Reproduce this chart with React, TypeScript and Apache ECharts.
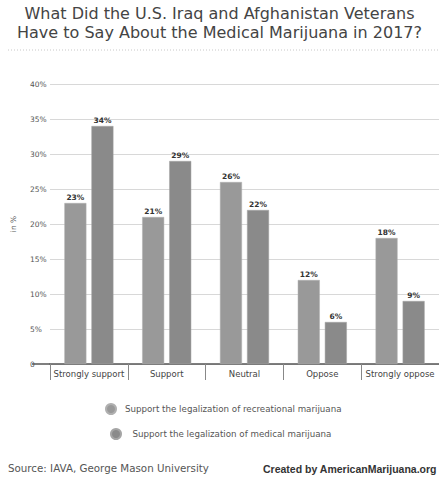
import React, { useEffect, useRef } from "react";
import * as echarts from "echarts";

const categories = ["Strongly support", "Support", "Neutral", "Oppose", "Strongly oppose"];
const recreational = [23, 21, 26, 12, 18];
const medical = [34, 29, 22, 6, 9];
const seriesNames = [
  "Support the legalization of recreational marijuana",
  "Support the legalization of medical marijuana",
];
const titleLines = [
  "What Did the U.S. Iraq and Afghanistan Veterans",
  "Have to Say About the Medical Marijuana in 2017?",
];
const sourceText = "Source: IAVA, George Mason University";
const creditText = "Created by AmericanMarijuana.org";

export default function App() {
  const ref = useRef<HTMLDivElement>(null);
  useEffect(() => {
    document.body.style.margin = "0";
    const chart = echarts.init(ref.current!, null, { renderer: "svg" });
    const font = "'DejaVu Sans', sans-serif";
    const label = {
      show: true,
      position: "top",
      distance: 2,
      formatter: "{c}%",
      fontSize: 7.5,
      fontWeight: "bold",
      color: "#333",
      fontFamily: font,
    };
    const legendBase = {
      icon: "circle",
      itemHeight: 10,
      itemGap: 5,
      padding: 0,
      symbolKeepAspect: true,
      textStyle: { fontSize: 8.7, color: "#555", fontFamily: font },
    };
    const titleStyle = {
      fontSize: 16,
      lineHeight: 18,
      fontWeight: "normal",
      color: "#444",
      fontFamily: font,
    };
    chart.setOption({
      animation: false,
      backgroundColor: "#fff",
      title: [
        { text: titleLines[0], left: "center", top: 4, padding: 0, textStyle: titleStyle },
        { text: titleLines[1], left: "center", top: 23, padding: 0, textStyle: titleStyle },
      ],
      grid: { left: 50, top: 84, bottom: 117, width: 391 },
      legend: [
        { ...legendBase, itemWidth: 18, data: [seriesNames[0]], left: 105, top: 403 },
        { ...legendBase, itemWidth: 23, data: [seriesNames[1]], left: 110, top: 428 },
      ],
      xAxis: {
        type: "category",
        data: categories,
        axisLine: { lineStyle: { color: "#555", width: 1.5 } },
        axisTick: { show: true, length: 16, lineStyle: { color: "#888" } },
        axisLabel: { fontSize: 8.5, color: "#444", margin: 5, fontFamily: font, interval: 0 },
      },
      yAxis: {
        type: "value",
        min: 0,
        max: 40,
        interval: 5,
        name: "in %",
        nameLocation: "middle",
        nameGap: 33,
        nameTextStyle: { fontSize: 7.5, color: "#555", fontFamily: font },
        axisLine: { show: false },
        axisTick: { show: false },
        axisLabel: {
          align: "left",
          margin: 20,
          fontSize: 7.5,
          color: "#555",
          fontFamily: font,
          formatter: (v: number) => (v === 0 ? "0" : v + "%"),
        },
        splitLine: { lineStyle: { color: "#d8d8d8", width: 1.2 } },
      },
      series: [
        {
          name: seriesNames[0],
          type: "bar",
          data: recreational,
          barWidth: 22,
          barGap: "23%",
          itemStyle: { color: "#999999", borderColor: "#b0b0b0", borderWidth: 0.5 },
          label,
        },
        {
          name: seriesNames[1],
          type: "bar",
          data: medical,
          barWidth: 22,
          itemStyle: { color: "#8a8a8a", borderColor: "#a5a5a5", borderWidth: 0.5 },
          label,
        },
      ],
      graphic: [
        {
          type: "line",
          shape: { x1: 8, y1: 50, x2: 439, y2: 50 },
          style: { stroke: "#c8c8c8", lineWidth: 1, lineDash: [1, 2] },
        },
        {
          type: "line",
          shape: { x1: 32, y1: 364, x2: 50, y2: 364 },
          style: { stroke: "#555", lineWidth: 1.5 },
        },
        {
          type: "text",
          left: 8,
          top: 463,
          style: { text: sourceText, fontSize: 10.3, fill: "#555", fontFamily: font },
        },
        {
          type: "text",
          left: 263,
          top: 463,
          style: {
            text: creditText,
            fontSize: 10.5,
            fontWeight: "bold",
            fill: "#333",
            fontFamily: "'Liberation Sans', Arial, sans-serif",
          },
        },
      ],
    });
    return () => chart.dispose();
  }, []);
  return <div ref={ref} style={{ width: 439, height: 481 }} />;
}
